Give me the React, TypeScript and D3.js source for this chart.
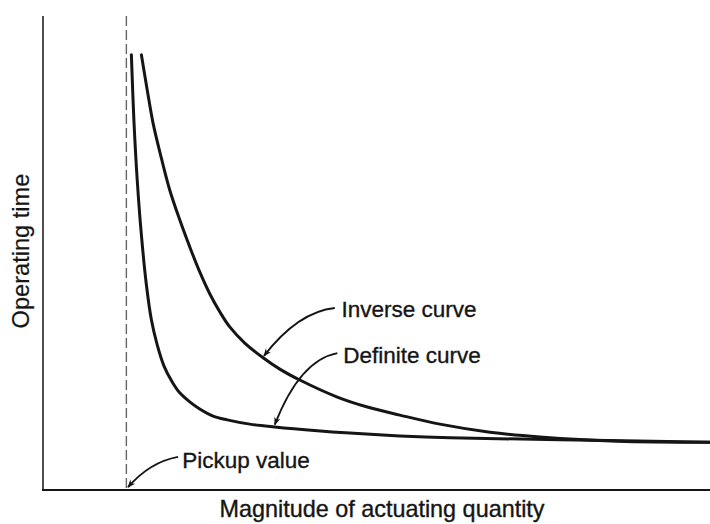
import { useEffect } from 'react'
import * as d3 from 'd3'

const WIDTH = 710
const HEIGHT = 524
const X_RANGE = [43, 710]
const Y_RANGE = [490, 16]

// magnitude (multiples of pickup) vs operating time
const PICKUP = 1
const definiteX = [
  1.06, 1.09, 1.13, 1.18, 1.24, 1.3, 1.37, 1.45, 1.55, 1.64, 1.76, 1.88, 2.04, 2.21, 2.48, 2.78, 3.29, 3.68,
  4.28, 4.88, 6.2, 8.0,
]
const definiteY = [
  9.18, 7.81, 6.54, 5.38, 4.33, 3.59, 3.06, 2.62, 2.28, 2.05, 1.86, 1.71, 1.56, 1.48, 1.39, 1.33, 1.25, 1.2,
  1.14, 1.1, 1.06, 1.01,
]
const inverseX = [
  1.18, 1.25, 1.32, 1.42, 1.52, 1.64, 1.76, 1.88, 2.0, 2.12, 2.24, 2.42, 2.64, 2.84, 3.08, 3.53, 3.89, 4.28,
  4.76, 5.36, 5.96, 6.89, 8.0,
]
const inverseY = [
  9.18, 8.44, 7.74, 7.0, 6.33, 5.7, 5.13, 4.6, 4.14, 3.76, 3.44, 3.1, 2.79, 2.55, 2.32, 1.96, 1.75, 1.58,
  1.39, 1.22, 1.12, 1.03, 1.01,
]

// callouts: label anchor, leader tail, bend, arrow tip (data units)
const labels = ['Inverse curve', 'Definite curve', 'Pickup value']
const labelAt = [[3.58, 3.65], [3.6, 2.68], [1.67, 0.46]]
const leaderTail = [[3.5, 3.84], [3.53, 2.89], [1.62, 0.7]]
const leaderBend = [[3.06, 3.76], [3.08, 2.74], [1.28, 0.59]]
const leaderTip = [[2.65, 2.83], [2.78, 1.38], [1.02, 0.06]]

const FONT = "'Liberation Sans', Arial, sans-serif"
const INK = '#151515'

export default function App() {
  useEffect(() => {
    document.body.style.margin = '0'
  }, [])

  const x = d3.scaleLinear().domain([0, 8]).range(X_RANGE)
  const y = d3.scaleLinear().domain([0, 10]).range(Y_RANGE)

  const line = d3
    .line<[number, number]>()
    .x((d) => x(d[0]))
    .y((d) => y(d[1]))
    .curve(d3.curveCatmullRom.alpha(0.5))

  const definite = definiteX.map((v, i) => [v, definiteY[i]] as [number, number])
  const inverse = inverseX.map((v, i) => [v, inverseY[i]] as [number, number])

  const leader = (i: number) => {
    const p = d3.path()
    p.moveTo(x(leaderTail[i][0]), y(leaderTail[i][1]))
    p.quadraticCurveTo(x(leaderBend[i][0]), y(leaderBend[i][1]), x(leaderTip[i][0]), y(leaderTip[i][1]))
    return p.toString()
  }

  return (
    <svg width={WIDTH} height={HEIGHT} style={{ display: 'block', background: '#fff' }}>
      <defs>
        <marker id="head" viewBox="0 0 10 10" refX="9" refY="5" markerWidth="12" markerHeight="8" orient="auto" markerUnits="userSpaceOnUse">
          <path d="M0,1 L10,5 L0,9 L3,5 Z" fill={INK} />
        </marker>
      </defs>

      {/* axes */}
      <line x1={x(0)} x2={x(0)} y1={y(10)} y2={y(0)} stroke="#222" strokeWidth={1.6} />
      <line x1={x(0) - 1} x2={x(8)} y1={y(0)} y2={y(0)} stroke={INK} strokeWidth={2.2} />

      {/* pickup marker */}
      <line
        x1={x(PICKUP)}
        x2={x(PICKUP)}
        y1={y(10)}
        y2={y(0)}
        stroke="#666"
        strokeWidth={1.4}
        strokeDasharray="10 4"
      />

      <path d={line(definite) ?? ''} fill="none" stroke={INK} strokeWidth={3} strokeLinecap="round" />
      <path d={line(inverse) ?? ''} fill="none" stroke={INK} strokeWidth={3} strokeLinecap="round" />

      {labels.map((t, i) => (
        <g key={t}>
          <path d={leader(i)} fill="none" stroke={INK} strokeWidth={1.8} markerEnd="url(#head)" />
          <text
            x={x(labelAt[i][0])}
            y={y(labelAt[i][1])}
            fontFamily={FONT}
            fontSize={22.5}
            fill={INK}
            stroke={INK}
            strokeWidth={0.35}
          >
            {t}
          </text>
        </g>
      ))}

      <text
        x={382}
        y={517}
        textAnchor="middle"
        fontFamily={FONT}
        fontSize={23.4}
        fill={INK}
        stroke={INK}
        strokeWidth={0.35}
      >
        Magnitude of actuating quantity
      </text>
      <text
        transform={`translate(29,251) rotate(-90)`}
        textAnchor="middle"
        fontFamily={FONT}
        fontSize={23.6}
        fill={INK}
        stroke={INK}
        strokeWidth={0.2}
      >
        Operating time
      </text>
    </svg>
  )
}
